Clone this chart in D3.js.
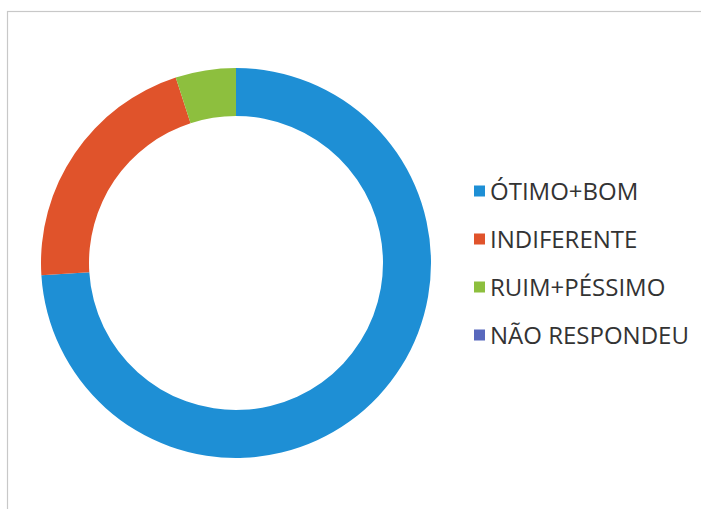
<!DOCTYPE html>
<html><head><meta charset="utf-8">
<script src="https://cdn.jsdelivr.net/npm/d3@7"></script>
<style>html,body{margin:0;padding:0;background:#fff;}</style>
</head><body>
<script>
const categories = ["ÓTIMO+BOM", "INDIFERENTE", "RUIM+PÉSSIMO", "NÃO RESPONDEU"];
const values = [74, 21, 5, 0];
const colors = ["#1e8fd5", "#e0532b", "#8dbf3e", "#5868bd"];

const W = 701, H = 509;
const svg = d3.select("body").append("svg").attr("width", W).attr("height", H);
svg.append("rect").attr("width", W).attr("height", H).attr("fill", "#fff");
// frame
svg.append("rect").attr("x", 7.5).attr("y", 11.5).attr("width", W + 20).attr("height", H + 20)
  .attr("fill", "none").attr("stroke", "#c8c8c8").attr("stroke-width", 1.2);

const data = categories.map((c, i) => ({cat: c, value: values[i], color: colors[i]}));
const pie = d3.pie().value(d => d.value).sort(null);
const arc = d3.arc().innerRadius(147).outerRadius(195);
const g = svg.append("g").attr("transform", "translate(236,263)");
g.selectAll("path").data(pie(data)).join("path")
  .attr("d", arc).attr("fill", d => d.data.color);

const leg = svg.append("g");
const rows = leg.selectAll("g").data(data).join("g")
  .attr("transform", (d, i) => `translate(474,${191 + i * 48})`);
rows.append("rect").attr("x", 0).attr("y", -5.5).attr("width", 11).attr("height", 11)
  .attr("fill", d => d.color);
rows.append("text").attr("x", 16).attr("y", 0).attr("dy", "0.36em")
  .attr("font-family", "Open Sans, sans-serif").attr("font-size", 24).attr("fill", "#333")
  .text(d => d.cat);
</script>
</body></html>
